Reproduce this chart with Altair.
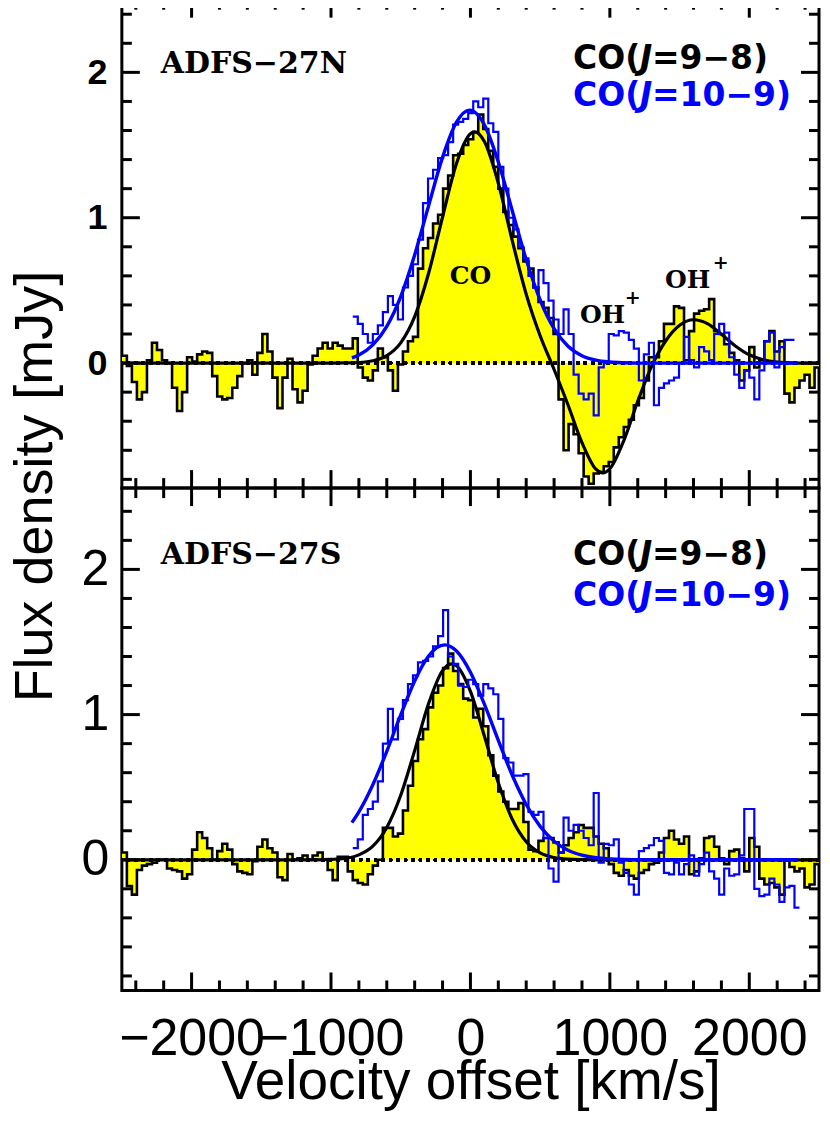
import altair as alt
import pandas as pd

# ---------------- data ----------------
V_START = -2500      # km/s, left edge of first channel
CHAN = 36            # channel width, km/s
BLUE_FIRST = 46      # index of first channel of the CO(10-9) spectra

# ADFS-27N, CO(9-8) (channels 0..138)
top_co98 = [
    0.05, -0.02, -0.13, -0.25, -0.20, 0.02, 0.14, 0.09, 0.02, 0.00,
    -0.17, -0.33, -0.20, 0.04, 0.01, 0.06, 0.08, 0.07, -0.09, -0.23,
    -0.25, -0.24, -0.17, -0.09, 0.00, 0.02, -0.08, 0.07, 0.20, 0.08,
    -0.10, -0.31, -0.10, 0.03, -0.18, -0.27, -0.19, -0.01, 0.05, 0.10,
    0.14, 0.10, 0.14, 0.12, 0.10, 0.10, 0.17, -0.03, -0.10, -0.12,
    -0.05, 0.10, 0.04, -0.05, -0.19, -0.01, 0.08, 0.15, 0.18, 0.65,
    0.79, 0.86, 0.96, 1.02, 1.20, 1.29, 1.43, 1.44, 1.50, 1.54,
    1.59, 1.71, 1.61, 1.46, 1.35, 1.20, 1.04, 0.95, 0.87, 0.79,
    0.70, 0.65, 0.52, 0.42, 0.38, 0.31, 0.20, -0.25, -0.60, -0.42,
    -0.49, -0.62, -0.78, -0.83, -0.76, -0.75, -0.71, -0.68, -0.58, -0.51,
    -0.44, -0.39, -0.29, -0.24, -0.12, 0.04, 0.04, 0.15, 0.27, 0.27,
    0.39, 0.38, 0.02, 0.22, 0.34, 0.36, 0.37, 0.44, 0.22, 0.20,
    0.13, 0.07, 0.02, -0.12, -0.05, 0.11, -0.03, 0.02, 0.15, 0.22,
    0.08, 0.15, -0.21, -0.27, -0.17, -0.12, -0.08, -0.17, -0.03,
]
# ADFS-27N, CO(10-9) (channels 46..133)
top_co109 = [
    0.32, 0.27, 0.20, 0.14, 0.20, 0.26, 0.35, 0.46, 0.40, 0.30,
    0.52, 0.60, 0.68, 0.85, 1.10, 1.27, 1.33, 1.41, 1.43, 1.52,
    1.64, 1.66, 1.68, 1.72, 1.80, 1.76, 1.82, 1.65, 1.59, 1.35,
    1.20, 1.00, 0.92, 0.80, 0.72, 0.60, 0.52, 0.64, 0.55, 0.43,
    0.30, 0.20, 0.37, 0.20, -0.08, -0.21, -0.25, -0.21, -0.36, -0.03,
    0.00, 0.20, 0.19, 0.22, 0.21, 0.16, 0.10, -0.12, 0.06, 0.14,
    -0.29, -0.17, -0.14, -0.12, -0.10, 0.00, 0.18, 0.02, -0.03, 0.11,
    0.08, 0.02, 0.20, 0.27, 0.21, 0.04, -0.08, -0.17, -0.05, -0.10,
    -0.25, -0.05, 0.15, 0.21, -0.03, 0.11, 0.16, 0.16,
]
# ADFS-27S, CO(9-8) (channels 0..138)
bot_co98 = [
    0.05, -0.18, -0.24, -0.07, -0.04, -0.03, -0.02, 0.00, 0.00, -0.06,
    -0.07, -0.08, -0.13, -0.10, 0.07, 0.19, 0.15, 0.08, 0.00, 0.06,
    0.11, 0.07, -0.03, -0.08, -0.09, -0.10, -0.01, 0.09, 0.14, 0.08,
    0.05, -0.12, -0.14, 0.04, 0.00, 0.01, 0.03, 0.00, 0.03, 0.05,
    0.00, -0.07, -0.14, 0.02, 0.02, -0.08, -0.14, -0.16, -0.17, -0.10,
    -0.04, 0.00, 0.22, 0.22, 0.16, 0.18, 0.34, 0.51, 0.68, 0.83,
    0.90, 1.05, 1.15, 1.20, 1.32, 1.42, 1.30, 1.21, 1.11, 1.10,
    0.98, 1.04, 0.92, 0.72, 0.58, 0.47, 0.40, 0.35, 0.35, 0.39,
    0.26, 0.07, 0.06, 0.13, 0.15, 0.15, 0.12, 0.05, 0.10, 0.15,
    0.19, 0.24, 0.22, 0.22, 0.16, 0.11, 0.08, -0.03, -0.09, -0.11,
    -0.07, -0.11, -0.13, -0.09, -0.07, -0.03, -0.02, 0.05, 0.15, 0.20,
    0.14, 0.11, 0.16, -0.10, -0.08, 0.01, 0.15, 0.16, 0.09, 0.01,
    -0.03, 0.06, 0.07, 0.01, -0.08, 0.15, 0.09, -0.13, -0.17, -0.16,
    -0.19, -0.24, 0.00, -0.05, -0.08, -0.06, -0.19, -0.17, -0.03,
]
# ADFS-27S, CO(10-9) (channels 46..134)
bot_co109 = [
    0.08, 0.14, 0.31, 0.35, 0.40, 0.54, 0.80, 1.04, 0.83, 0.97,
    1.10, 1.21, 1.27, 1.36, 1.37, 1.40, 1.47, 1.54, 1.72, 1.40,
    1.35, 1.20, 1.19, 1.24, 1.21, 1.13, 1.21, 1.18, 1.14, 0.97,
    0.70, 0.67, 0.58, 0.58, 0.59, 0.33, 0.31, 0.33, 0.15, -0.06,
    -0.15, 0.05, 0.29, 0.20, 0.24, 0.20, 0.15, 0.10, 0.46, -0.02,
    0.11, 0.10, 0.14, -0.02, -0.09, -0.17, -0.24, 0.06, 0.08, 0.10,
    0.15, 0.13, -0.09, -0.10, -0.02, -0.10, -0.03, 0.03, -0.11, -0.03,
    0.05, -0.08, -0.13, -0.24, -0.06, -0.11, -0.10, 0.03, 0.35, 0.35,
    -0.20, -0.25, -0.24, -0.13, -0.17, -0.29, -0.19, -0.18, -0.33,
]

# fitted profiles
top_fit98_v = [-2500, -1000, -900, -800, -700, -600, -500, -400, -300, -200, -100, 0, 30,
               100, 200, 300, 400, 500, 600, 700, 800, 900, 950, 1000, 1100, 1200, 1300,
               1400, 1500, 1600, 1700, 1800, 1900, 2000, 2100, 2200, 2300, 2400, 2500]
top_fit98_f = [0, 0, 0.001, 0.004, 0.016, 0.051, 0.139, 0.319, 0.618, 1.005, 1.373, 1.578, 1.59,
               1.524, 1.237, 0.842, 0.474, 0.188, -0.044, -0.288, -0.547, -0.73, -0.756, -0.727,
               -0.533, -0.263, -0.021, 0.152, 0.26, 0.298, 0.271, 0.198, 0.118, 0.057, 0.023,
               0.007, 0.002, 0, 0]
top_fit109_v = [-850, -800, -700, -600, -500, -400, -300, -200, -100, -5, 100, 200, 300, 400,
                500, 600, 700, 800, 900, 1000, 1100, 1200, 2350]
top_fit109_f = [0.036, 0.056, 0.125, 0.253, 0.458, 0.744, 1.083, 1.415, 1.657, 1.74, 1.639,
                1.384, 1.048, 0.712, 0.434, 0.237, 0.116, 0.051, 0.02, 0.007, 0.002, 0.0, 0.0]
bot_fit98_v = [-2500, -1100, -1000, -900, -800, -700, -600, -500, -400, -300, -200, -135, -100,
               0, 100, 200, 300, 400, 500, 600, 700, 800, 900, 2500]
bot_fit98_f = [0, 0, 0.003, 0.01, 0.034, 0.094, 0.223, 0.445, 0.752, 1.076, 1.303, 1.35, 1.336,
               1.16, 0.852, 0.53, 0.279, 0.124, 0.047, 0.015, 0.004, 0.001, 0, 0]
bot_fit109_v = [-850, -800, -700, -600, -500, -400, -300, -185, -100, 0, 100, 200, 300, 400,
                500, 600, 700, 800, 900, 1000, 1100, 1200, 1300, 2350]
bot_fit109_f = [0.256, 0.33, 0.517, 0.747, 0.998, 1.232, 1.404, 1.48, 1.438, 1.292, 1.072,
                0.822, 0.582, 0.381, 0.23, 0.128, 0.066, 0.032, 0.014, 0.006, 0.002, 0.001, 0, 0]

x_major = [-2000, -1000, 0, 1000, 2000]
x_minor = [-2400, -2200, -1800, -1600, -1400, -1200, -800, -600, -400, -200,
           200, 400, 600, 800, 1200, 1400, 1600, 1800, 2200, 2400]
y_major = [0, 1, 2]
y_minor = [-0.8, -0.6, -0.4, -0.2, 0.2, 0.4, 0.6, 0.8, 1.2, 1.4, 1.6, 1.8, 2.2, 2.4]

# ---------------- styling ----------------
FONT = "Liberation Sans, Arial, sans-serif"
SERIF = "DejaVu Serif, Liberation Serif, serif"
SANSB = "DejaVu Sans, Liberation Sans, sans-serif"
BLUE = "#0000ff"
YELLOW = "#ffff00"
W = 698
XS = alt.Scale(domain=[-2500, 2500], nice=False, zero=False)


def hist(vals, k0):
    v = [V_START + CHAN * (k0 + i) for i in range(len(vals) + 1)]
    f = list(vals) + [vals[-1]]
    return pd.DataFrame({"v": v, "f": f})


def make_panel(co98, co109, f98v, f98f, f109v, f109f, ydom, H, ylab, show_x, ytitle, texts):
    YS = alt.Scale(domain=ydom, nice=False, zero=False)
    if show_x:
        xaxis = alt.Axis(values=x_major, format="d", ticks=False, domain=False, grid=False,
                         labelFont=FONT, labelFontSize=52, labelPadding=64,
                         labelBaseline="alphabetic", labelOverlap=False, labelFlush=False,
                         labelColor="black", title="Velocity offset [km/s]", titleFont=FONT,
                         titleFontSize=55, titleFontWeight="normal", titleBaseline="alphabetic",
                         titleY=108, titleX=W / 2, titleAlign="center", titleColor="black")
    else:
        xaxis = None
    ykw = dict(values=y_major, format="d", ticks=False, domain=False, grid=False,
               labelFont=FONT, labelFontSize=ylab[0], labelFontWeight=ylab[1],
               labelPadding=ylab[2], labelBaseline="middle", labelColor="black",
               labelFlush=False, labelOverlap=False)
    if ytitle:
        ykw.update(title=ytitle, titleFont=FONT, titleFontSize=54, titleFontWeight="normal",
                   titleX=-70, titleY=H - 2, titleAlign="center", titleBaseline="alphabetic",
                   titleColor="black", titleAngle=270)
    else:
        ykw.update(title=None)
    yaxis = alt.Axis(**ykw)

    def X(field="v"):
        return alt.X(f"{field}:Q", scale=XS, axis=xaxis)

    def Y(field="f"):
        return alt.Y(f"{field}:Q", scale=YS, axis=yaxis)

    h98 = hist(co98, 0)
    h109 = hist(co109, BLUE_FIRST)
    layers = []
    layers.append(alt.Chart(h98).mark_area(interpolate="step-after", color=YELLOW, clip=True)
                  .encode(x=X(), y=Y(), y2=alt.datum(0)))
    layers.append(alt.Chart(h98).mark_rule(color="black", strokeWidth=3, strokeDash=[3, 4.5])
                  .encode(y=alt.datum(0)))
    layers.append(alt.Chart(h98).mark_line(interpolate="step-after", color="black",
                                           strokeWidth=2.6, clip=True)
                  .encode(x=X(), y=Y()))
    layers.append(alt.Chart(pd.DataFrame({"v": f98v, "f": f98f}))
                  .mark_line(interpolate="monotone", color="black", strokeWidth=3.2, clip=True)
                  .encode(x=X(), y=Y()))
    layers.append(alt.Chart(h109).mark_line(interpolate="step-after", color=BLUE,
                                            strokeWidth=2.2, clip=True)
                  .encode(x=X(), y=Y()))
    layers.append(alt.Chart(pd.DataFrame({"v": f109v, "f": f109f}))
                  .mark_line(interpolate="monotone", color=BLUE, strokeWidth=3.4, clip=True)
                  .encode(x=X(), y=Y()))

    # frame ticks (inside, all four sides)
    for vals, ln in ((x_major, 18), (x_minor, 10)):
        d = pd.DataFrame({"v": vals})
        layers.append(alt.Chart(d).mark_rule(color="black", strokeWidth=3)
                      .encode(x=X(), y=alt.value(0), y2=alt.value(ln)))
        layers.append(alt.Chart(d).mark_rule(color="black", strokeWidth=3)
                      .encode(x=X(), y=alt.value(H), y2=alt.value(H - ln)))
    for vals, ln in ((y_major, 18), (y_minor, 10)):
        d = pd.DataFrame({"f": vals})
        layers.append(alt.Chart(d).mark_rule(color="black", strokeWidth=3)
                      .encode(y=Y(), x=alt.value(0), x2=alt.value(ln)))
        layers.append(alt.Chart(d).mark_rule(color="black", strokeWidth=3)
                      .encode(y=Y(), x=alt.value(W), x2=alt.value(W - ln)))

    # annotations
    for rows, style in texts:
        d = pd.DataFrame(rows, columns=["v", "f", "t"])
        layers.append(alt.Chart(d).mark_text(baseline="middle", **style)
                      .encode(x=X(), y=Y(), text="t:N"))

    return alt.layer(*layers).properties(width=W, height=H)


def co_labels(fb, fl):
    base = dict(font=SANSB, fontSize=33, fontWeight="bold", align="left")
    return [
        ([(736, fb, "CO(")], dict(base, color="black")),
        ([(736, fb, "J")], dict(base, color="black", fontStyle="italic", dx=67)),
        ([(736, fb, "=9\u22128)")], dict(base, color="black", dx=79)),
        ([(736, fl, "CO(")], dict(base, color=BLUE)),
        ([(736, fl, "J")], dict(base, color=BLUE, fontStyle="italic", dx=67)),
        ([(736, fl, "=10\u22129)")], dict(base, color=BLUE, dx=79)),
    ]


serif_big = dict(font=SERIF, fontSize=30, fontWeight="bold", align="left", color="black")
serif_mid = dict(font=SERIF, fontSize=25, fontWeight="bold", align="left", color="black")
serif_sup = dict(font=SERIF, fontSize=19, fontWeight="bold", align="left", color="black")

top_texts = [
    ([(-2221, 2.06, "ADFS\u221227N")], serif_big),
    ([(0, 0.6, "CO")], dict(serif_mid, align="center")),
    ([(785, 0.33, "OH"), (1395, 0.57, "OH")], serif_mid),
    ([(1106, 0.45, "+"), (1738, 0.69, "+")], serif_sup),
] + co_labels(2.09, 1.835)

bot_texts = [
    ([(-2221, 2.10, "ADFS\u221227S")], serif_big),
] + co_labels(2.10, 1.815)

top = make_panel(top_co98, top_co109, top_fit98_v, top_fit98_f, top_fit109_v, top_fit109_f,
                 [-0.86, 2.5], 489, (36, "bold", 15), False, "Flux density [mJy]", top_texts)
bot = make_panel(bot_co98, bot_co109, bot_fit98_v, bot_fit98_f, bot_fit109_v, bot_fit109_f,
                 [-0.9, 2.56], 503, (50, "normal", 13), True, None, bot_texts)

chart = (alt.vconcat(top, bot, spacing=0, bounds="flush")
         .properties(padding={"left": -1, "top": -12, "right": 0, "bottom": 0},
                     background="white")
         .configure_view(stroke="black", strokeWidth=3))

chart.save("out.html", embed_options={"renderer": "svg", "actions": False})
